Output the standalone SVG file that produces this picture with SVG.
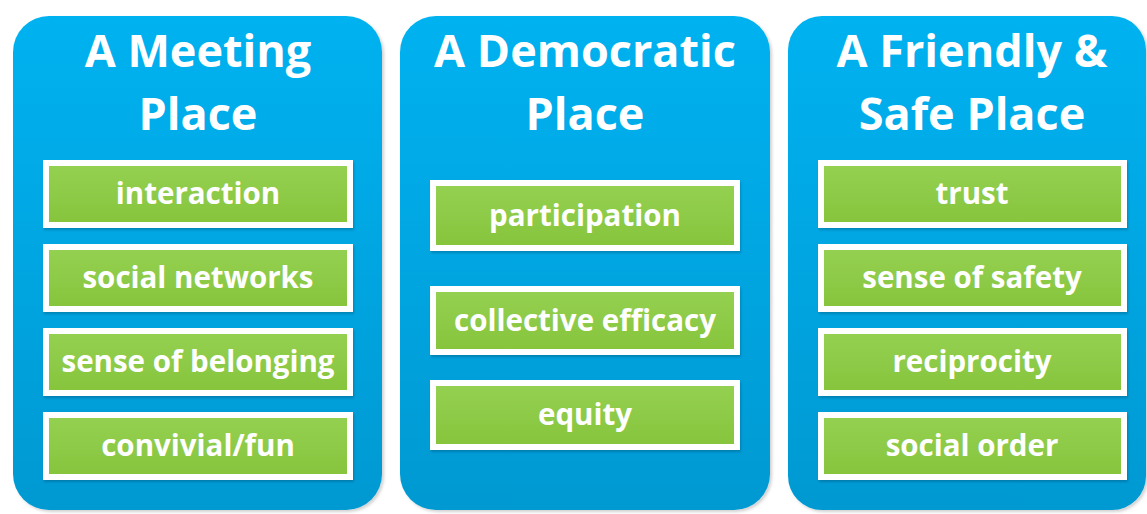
<svg xmlns="http://www.w3.org/2000/svg" width="1147" height="514" viewBox="0 0 1147 514">
  <defs>
    <linearGradient id="panelFill" x1="0" y1="0" x2="0" y2="1">
      <stop offset="0" stop-color="#00B2F0"/>
      <stop offset="1" stop-color="#0099D2"/>
    </linearGradient>
    <linearGradient id="itemFill" x1="0" y1="0" x2="0" y2="1">
      <stop offset="0" stop-color="#95D152"/>
      <stop offset="1" stop-color="#86C43C"/>
    </linearGradient>
    <filter id="panelShadow" x="-5%" y="-5%" width="110%" height="110%">
      <feDropShadow dx="2" dy="2" stdDeviation="1.5" flood-color="#000" flood-opacity="0.18"/>
    </filter>
    <filter id="itemShadow" x="-5%" y="-10%" width="110%" height="120%">
      <feDropShadow dx="1" dy="2" stdDeviation="1" flood-color="#003b5c" flood-opacity="0.3"/>
    </filter>
  </defs>
  <style>
    .panel { fill: url(#panelFill); filter: url(#panelShadow); }
    .item { fill: url(#itemFill); stroke: #ffffff; stroke-width: 6; filter: url(#itemShadow); }
    .title { font-family: "Open Sans", "Liberation Sans", sans-serif; font-weight: 700; font-size: 45px; fill: #ffffff; text-anchor: middle; }
    .label { font-family: "Open Sans", "Liberation Sans", sans-serif; font-weight: 700; font-size: 29.5px; fill: #ffffff; text-anchor: middle; }
  </style>
  <rect width="1147" height="514" fill="#ffffff"/>

  <!-- Column 1 -->
  <g id="meeting-place">
    <rect class="panel" x="13" y="16" width="369" height="494" rx="36"/>
    <text class="title" x="198" y="67">A Meeting</text>
    <text class="title" x="198" y="130">Place</text>
    <g id="interaction">
      <rect class="item" x="46" y="163" width="304" height="62"/>
      <text class="label" x="198" y="204">interaction</text>
    </g>
    <g id="social-networks">
      <rect class="item" x="46" y="247" width="304" height="62"/>
      <text class="label" x="198" y="288">social networks</text>
    </g>
    <g id="sense-of-belonging">
      <rect class="item" x="46" y="331" width="304" height="62"/>
      <text class="label" x="198" y="372">sense of belonging</text>
    </g>
    <g id="convivial-fun">
      <rect class="item" x="46" y="415" width="304" height="62"/>
      <text class="label" x="198" y="456">convivial/fun</text>
    </g>
  </g>

  <!-- Column 2 -->
  <g id="democratic-place">
    <rect class="panel" x="400" y="16" width="370" height="494" rx="36"/>
    <text class="title" x="585" y="67">A Democratic</text>
    <text class="title" x="585" y="130">Place</text>
    <g id="participation">
      <rect class="item" x="433" y="183" width="304" height="65"/>
      <text class="label" x="585" y="226">participation</text>
    </g>
    <g id="collective-efficacy">
      <rect class="item" x="433" y="289" width="304" height="63"/>
      <text class="label" x="585" y="331">collective efficacy</text>
    </g>
    <g id="equity">
      <rect class="item" x="433" y="383" width="304" height="64"/>
      <text class="label" x="585" y="425">equity</text>
    </g>
  </g>

  <!-- Column 3 -->
  <g id="friendly-safe-place">
    <rect class="panel" x="788" y="16" width="358" height="494" rx="34"/>
    <text class="title" x="972" y="67">A Friendly &amp;</text>
    <text class="title" x="972" y="130">Safe Place</text>
    <g id="trust">
      <rect class="item" x="821" y="163" width="303" height="62"/>
      <text class="label" x="972" y="204">trust</text>
    </g>
    <g id="sense-of-safety">
      <rect class="item" x="821" y="247" width="303" height="62"/>
      <text class="label" x="972" y="288">sense of safety</text>
    </g>
    <g id="reciprocity">
      <rect class="item" x="821" y="331" width="303" height="62"/>
      <text class="label" x="972" y="372">reciprocity</text>
    </g>
    <g id="social-order">
      <rect class="item" x="821" y="415" width="303" height="62"/>
      <text class="label" x="972" y="456">social order</text>
    </g>
  </g>

  <!-- no connectors in this figure -->
  <g id="connectors"/>
</svg>
